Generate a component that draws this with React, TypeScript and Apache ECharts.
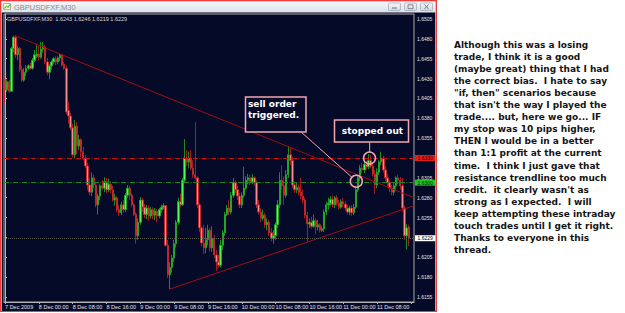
import React, { useEffect, useRef } from "react";
import * as echarts from "echarts";

// ---------- data ----------
const symbolName = "GBPUSDFXF,M30";
const lastQuote = ["1.6243", "1.6246", "1.6219", "1.6229"];

const xTickLabels = [
  "7 Dec 2009", "8 Dec 00:00", "8 Dec 08:00", "8 Dec 16:00", "9 Dec 00:00", "9 Dec 08:00",
  "9 Dec 16:00", "10 Dec 00:00", "10 Dec 08:00", "10 Dec 16:00", "11 Dec 00:00", "11 Dec 08:00",
];
const barsPerTick = 16;
const emptySlots = 2;

const yTickValues = [
  1.6155, 1.618, 1.6205, 1.623, 1.6255, 1.628, 1.6305, 1.633, 1.6355, 1.638, 1.6405, 1.643,
  1.6455, 1.648, 1.6505,
];
// tick labels hidden under the level boxes in the reference
const yHiddenLabels = [1.623, 1.633];
const yMin = 1.61487;
const yMax = 1.65113;

// [open, close, low, high]
const candles: number[][] = [
  [1.6429, 1.6416, 1.6398, 1.6432], [1.6416, 1.6426, 1.6413, 1.6429], [1.6426, 1.6414, 1.6412, 1.6428],
  [1.6414, 1.6468, 1.6413, 1.647], [1.6468, 1.6482, 1.6463, 1.6484], [1.6482, 1.646, 1.6456, 1.6485],
  [1.646, 1.6468, 1.6453, 1.6471], [1.6468, 1.6441, 1.6438, 1.647], [1.6441, 1.6428, 1.6426, 1.6446],
  [1.6428, 1.6438, 1.6426, 1.6443], [1.6438, 1.6443, 1.6433, 1.6447], [1.6443, 1.6446, 1.6441, 1.6448],
  [1.6446, 1.6443, 1.6441, 1.645], [1.6443, 1.6453, 1.6441, 1.6456], [1.6453, 1.646, 1.6451, 1.6466],
  [1.6458, 1.6461, 1.6456, 1.6474], [1.6461, 1.6457, 1.6453, 1.6471], [1.6457, 1.6467, 1.6455, 1.6476],
  [1.6467, 1.647, 1.6463, 1.6476], [1.647, 1.6451, 1.6448, 1.6472], [1.6451, 1.6438, 1.6434, 1.6456],
  [1.6438, 1.6446, 1.6429, 1.6448], [1.6446, 1.6451, 1.6441, 1.6453], [1.6451, 1.6455, 1.6448, 1.6457],
  [1.6455, 1.6451, 1.6447, 1.6458], [1.6451, 1.6456, 1.6448, 1.6458], [1.6456, 1.646, 1.6452, 1.6461],
  [1.646, 1.6447, 1.6445, 1.6461], [1.6448, 1.6443, 1.6441, 1.6451], [1.6443, 1.6388, 1.6385, 1.6446],
  [1.639, 1.6383, 1.6373, 1.6401], [1.6383, 1.6368, 1.6365, 1.6387], [1.6368, 1.6334, 1.6331, 1.6373],
  [1.6334, 1.637, 1.633, 1.6378], [1.637, 1.6345, 1.6335, 1.6375], [1.6345, 1.6353, 1.634, 1.6359],
  [1.6353, 1.6338, 1.6331, 1.6355], [1.6338, 1.633, 1.6327, 1.6344], [1.633, 1.632, 1.6317, 1.6334],
  [1.632, 1.6296, 1.629, 1.6324], [1.6296, 1.6287, 1.6283, 1.6305], [1.6287, 1.6305, 1.6282, 1.6312],
  [1.6305, 1.6296, 1.6292, 1.6309], [1.6296, 1.6271, 1.6268, 1.63], [1.6271, 1.6282, 1.6259, 1.6285],
  [1.6282, 1.6295, 1.6277, 1.6297], [1.6295, 1.6292, 1.629, 1.6302], [1.6292, 1.63, 1.6287, 1.6306],
  [1.63, 1.629, 1.6286, 1.6305], [1.629, 1.6297, 1.6287, 1.6304], [1.6297, 1.629, 1.6286, 1.6301],
  [1.629, 1.6277, 1.6275, 1.6295], [1.6277, 1.628, 1.627, 1.6285], [1.628, 1.6265, 1.6262, 1.6282],
  [1.6265, 1.6261, 1.6257, 1.6271], [1.6261, 1.6271, 1.6258, 1.6275], [1.6271, 1.6265, 1.6261, 1.6277],
  [1.6265, 1.6283, 1.6262, 1.6286], [1.6283, 1.6292, 1.628, 1.6296], [1.6292, 1.6283, 1.6277, 1.6295],
  [1.6283, 1.6271, 1.6268, 1.6286], [1.6271, 1.6259, 1.6257, 1.6273], [1.6259, 1.6232, 1.6222, 1.6262],
  [1.6232, 1.6249, 1.6227, 1.6254], [1.6249, 1.6277, 1.6246, 1.6281], [1.6277, 1.6268, 1.6262, 1.628],
  [1.6268, 1.6259, 1.6254, 1.6272], [1.6259, 1.6267, 1.6253, 1.6271], [1.6267, 1.6257, 1.6251, 1.627],
  [1.6257, 1.6265, 1.6254, 1.6268], [1.6265, 1.6258, 1.6253, 1.6268], [1.6258, 1.6263, 1.6252, 1.6267],
  [1.6263, 1.6257, 1.6249, 1.6266], [1.6257, 1.6265, 1.6254, 1.6267], [1.6265, 1.6268, 1.6261, 1.6271],
  [1.6268, 1.627, 1.6265, 1.6273], [1.627, 1.622, 1.6218, 1.6271], [1.622, 1.6183, 1.6179, 1.6227],
  [1.6183, 1.6192, 1.6165, 1.6199], [1.6192, 1.6204, 1.6186, 1.6208], [1.6204, 1.6222, 1.6199, 1.6227],
  [1.6222, 1.6249, 1.6217, 1.6252], [1.6249, 1.6275, 1.6246, 1.628], [1.6275, 1.6271, 1.6268, 1.6285],
  [1.6271, 1.6302, 1.627, 1.6305], [1.6302, 1.633, 1.6299, 1.6354], [1.633, 1.6325, 1.632, 1.634],
  [1.6325, 1.633, 1.6317, 1.6338], [1.633, 1.6317, 1.6315, 1.634], [1.6317, 1.6309, 1.6305, 1.6327],
  [1.6309, 1.6305, 1.6302, 1.6375], [1.6305, 1.6271, 1.6267, 1.6307], [1.6271, 1.6242, 1.6237, 1.6273],
  [1.6242, 1.6223, 1.6219, 1.6244], [1.6223, 1.6217, 1.6209, 1.6246], [1.6217, 1.6227, 1.621, 1.6242],
  [1.6227, 1.6239, 1.622, 1.6246], [1.6239, 1.6217, 1.6212, 1.6242], [1.6217, 1.6229, 1.6212, 1.6244],
  [1.6229, 1.6208, 1.6204, 1.6233], [1.6208, 1.6199, 1.6188, 1.6214], [1.6199, 1.6195, 1.6192, 1.6208],
  [1.6195, 1.622, 1.6192, 1.6227], [1.622, 1.6236, 1.6214, 1.6239], [1.6236, 1.6259, 1.6232, 1.6262],
  [1.6259, 1.6267, 1.6257, 1.6271], [1.6267, 1.6262, 1.6258, 1.6277], [1.6262, 1.6283, 1.6259, 1.6287],
  [1.6283, 1.6299, 1.628, 1.6305], [1.6299, 1.629, 1.6286, 1.6302], [1.629, 1.6282, 1.6277, 1.6295],
  [1.6282, 1.6271, 1.6267, 1.6286], [1.6271, 1.6283, 1.6267, 1.6287], [1.6283, 1.6292, 1.628, 1.6319],
  [1.6292, 1.6302, 1.629, 1.6307], [1.6302, 1.6305, 1.6297, 1.631], [1.6305, 1.63, 1.6296, 1.6309],
  [1.63, 1.6305, 1.6297, 1.631], [1.6305, 1.6299, 1.6295, 1.6307], [1.6299, 1.6271, 1.6267, 1.6302],
  [1.6271, 1.6262, 1.6259, 1.6277], [1.6262, 1.6254, 1.6249, 1.6267], [1.6254, 1.6258, 1.6251, 1.6265],
  [1.6258, 1.6246, 1.6242, 1.6261], [1.6246, 1.6249, 1.6239, 1.6254], [1.6249, 1.6236, 1.6232, 1.6252],
  [1.6236, 1.6229, 1.6225, 1.6242], [1.6229, 1.6232, 1.6222, 1.6239], [1.6232, 1.6246, 1.6227, 1.6249],
  [1.6246, 1.6271, 1.6242, 1.6277], [1.6271, 1.6302, 1.6267, 1.6312], [1.6302, 1.6295, 1.629, 1.6321],
  [1.6295, 1.6283, 1.6271, 1.6307], [1.6283, 1.6309, 1.628, 1.6315], [1.6309, 1.6334, 1.6305, 1.6345],
  [1.6334, 1.6327, 1.6321, 1.6343], [1.6327, 1.6296, 1.6292, 1.6331], [1.6296, 1.629, 1.6286, 1.63],
  [1.629, 1.6293, 1.6286, 1.6299], [1.6293, 1.6287, 1.6283, 1.6297], [1.6287, 1.6282, 1.6278, 1.6305],
  [1.6282, 1.6277, 1.6273, 1.629], [1.6277, 1.6258, 1.6254, 1.628], [1.6258, 1.6247, 1.6225, 1.6262],
  [1.6247, 1.6249, 1.6242, 1.6254], [1.6249, 1.6244, 1.6241, 1.6256], [1.6244, 1.6251, 1.6242, 1.6259],
  [1.6251, 1.6243, 1.6234, 1.6254], [1.6243, 1.6246, 1.6239, 1.6252], [1.6246, 1.6239, 1.6236, 1.6248],
  [1.6239, 1.6241, 1.6237, 1.6244], [1.6241, 1.6262, 1.6237, 1.6265], [1.6262, 1.6271, 1.6258, 1.6275],
  [1.6271, 1.6273, 1.6265, 1.628], [1.6273, 1.6278, 1.627, 1.6282], [1.6278, 1.6271, 1.6268, 1.6283],
  [1.6271, 1.628, 1.6267, 1.6282], [1.628, 1.6273, 1.627, 1.6283], [1.6273, 1.6268, 1.6265, 1.6277],
  [1.6268, 1.6275, 1.6266, 1.6278], [1.6275, 1.6272, 1.6268, 1.628], [1.6272, 1.6267, 1.6263, 1.6276],
  [1.6267, 1.6262, 1.6259, 1.6271], [1.6262, 1.6267, 1.6258, 1.627], [1.6267, 1.6261, 1.6257, 1.6271],
  [1.6261, 1.6268, 1.6258, 1.6272], [1.6268, 1.629, 1.6266, 1.6295], [1.629, 1.6305, 1.6287, 1.631],
  [1.6305, 1.6317, 1.6301, 1.6321], [1.6317, 1.6315, 1.6311, 1.6324], [1.6315, 1.6322, 1.6311, 1.6327],
  [1.6322, 1.6319, 1.6315, 1.6326], [1.6319, 1.6327, 1.6316, 1.6335], [1.6327, 1.632, 1.6317, 1.6334],
  [1.632, 1.631, 1.6307, 1.6324], [1.631, 1.6296, 1.6285, 1.6315], [1.6296, 1.6312, 1.6292, 1.6317],
  [1.6312, 1.6325, 1.6309, 1.6327], [1.6325, 1.633, 1.6321, 1.6338], [1.633, 1.6315, 1.6312, 1.6333],
  [1.6315, 1.6305, 1.6301, 1.632], [1.6305, 1.6299, 1.6295, 1.631], [1.6299, 1.6292, 1.6287, 1.6302],
  [1.6292, 1.6287, 1.6283, 1.6296], [1.6287, 1.6295, 1.6283, 1.6299], [1.6295, 1.6305, 1.629, 1.6307],
  [1.6305, 1.6302, 1.6297, 1.6309], [1.6302, 1.6295, 1.629, 1.6306], [1.6295, 1.6267, 1.6263, 1.6305],
  [1.6267, 1.6232, 1.6227, 1.627], [1.6232, 1.6242, 1.6215, 1.6247], [1.6243, 1.6229, 1.6219, 1.6246],
];

// trendlines: [bar position, price]
const resistanceLine = [[4.7, 1.6484], [193.5, 1.628]];
const supportLine = [[78, 1.6165], [193.5, 1.627]];
const stopLevel = 1.633;
const entryLevel = 1.63;
const bidLevel = 1.6229;

const noteLines = [
  "Although this was a losing",
  "trade, I think it is a good",
  "(maybe great) thing that I had",
  "the correct bias.  I hate to say",
  "\"if, then\" scenarios because",
  "that isn't the way I played the",
  "trade.... but, here we go... IF",
  "my stop was 10 pips higher,",
  "THEN I would be in a better",
  "than 1:1 profit at the current",
  "time.  I think I just gave that",
  "resistance trendline too much",
  "credit.  it clearly wasn't as",
  "strong as I expected.  I will",
  "keep attempting these intraday",
  "touch trades until I get it right.",
  "Thanks to everyone in this",
  "thread.",
];
const sellNote = ["sell order", "triggered."];
const stopNote = "stopped out";

// ---------- styling ----------
const NAVY = "#060a29";
const PINK = "#f2a7b0";
const AXIS_TXT = "#e2e2e2";
const TREND = "#a30d0d";
const SMALL_FONT = "'Liberation Sans', Arial, sans-serif";
const BOLD_FONT = "'DejaVu Sans', Verdana, sans-serif";

function buildOption() {
  const categories = Array.from({ length: candles.length + emptySlots }, (_, i) => String(i));
  const xMaxPos = candles.length + emptySlots - 0.5;
  const yLabelValues = yTickValues.filter((v) => !yHiddenLabels.includes(v));

  const graphics: any[] = [
    // window frame
    { type: "rect", z: -30, silent: true, shape: { x: 0.75, y: 0.75, width: 435.5, height: 310.5 }, style: { fill: "#d3d8e1", stroke: "#ee3c3c", lineWidth: 1.5 } },
    {
      type: "rect", z: -29, silent: true, shape: { x: 1.5, y: 1.5, width: 434, height: 11 },
      style: { fill: new echarts.graphic.LinearGradient(0, 0, 0, 1, [{ offset: 0, color: "#f5f7fa" }, { offset: 1, color: "#dce1e9" }]) },
    },
    { type: "rect", z: -28, silent: true, shape: { x: 2, y: 12.5, width: 433, height: 298.5 }, style: { fill: NAVY } },
    // title icon
    { type: "rect", z: -27, shape: { x: 3.5, y: 3.5, width: 7, height: 6 }, style: { fill: "#f6f3c8", stroke: "#8a8a70", lineWidth: 0.6 } },
    { type: "polyline", z: -26, shape: { points: [[4.5, 8.5], [6.5, 6], [8, 7.5], [10, 4.5]] }, style: { stroke: "#2a9a2a", lineWidth: 0.9, fill: "none" } },
    { type: "text", z: -26, x: 14, y: 7, style: { text: symbolName, fill: "#8c8c8c", fontSize: 7.5, fontFamily: SMALL_FONT, verticalAlign: "middle" } },
    // window buttons
    ...[388.5, 404.5, 420.5].map((bx) => ({
      type: "rect", z: -26, shape: { x: bx, y: 3, width: 12, height: 7.5, r: 1 },
      style: {
        fill: new echarts.graphic.LinearGradient(0, 0, 0, 1, [{ offset: 0, color: "#f4f6f9" }, { offset: 1, color: "#d4d9e2" }]),
        stroke: "#9ea6b4", lineWidth: 0.7,
      },
    })),
    { type: "line", z: -25, shape: { x1: 392, y1: 8, x2: 397, y2: 8 }, style: { stroke: "#6b7280", lineWidth: 1 } },
    { type: "rect", z: -25, shape: { x: 408, y: 4.8, width: 5, height: 3.8 }, style: { fill: "none", stroke: "#6b7280", lineWidth: 0.8 } },
    { type: "line", z: -25, shape: { x1: 424.5, y1: 4.5, x2: 428.5, y2: 9 }, style: { stroke: "#6b7280", lineWidth: 0.9 } },
    { type: "line", z: -25, shape: { x1: 428.5, y1: 4.5, x2: 424.5, y2: 9 }, style: { stroke: "#6b7280", lineWidth: 0.9 } },
    // chart header
    {
      type: "text", z: 50, x: 7, y: 18.5,
      style: { text: `${symbolName}  ${lastQuote.join(" ")}`, fill: "#d6d6d6", fontSize: 5.5, fontFamily: SMALL_FONT, verticalAlign: "middle" },
    },
    // annotation: sell order triggered
    { type: "rect", z: 60, shape: { x: 245.5, y: 97, width: 60.5, height: 35 }, style: { fill: NAVY, stroke: PINK, lineWidth: 1.5 } },
    ...sellNote.map((t, i) => ({
      type: "text", z: 61, x: 248, y: 104 + i * 11,
      style: { text: t, fill: "#ffffff", fontSize: 9, fontWeight: "bold", fontFamily: BOLD_FONT, verticalAlign: "middle" },
    })),
    { type: "line", z: 60, shape: { x1: 301.7, y1: 132.5, x2: 351.6, y2: 177 }, style: { stroke: PINK, lineWidth: 1 } },
    { type: "circle", z: 60, shape: { cx: 356.3, cy: 181.2, r: 6 }, style: { fill: "none", stroke: PINK, lineWidth: 1.5 } },
    // annotation: stopped out
    { type: "rect", z: 60, shape: { x: 334.5, y: 120, width: 74, height: 22 }, style: { fill: NAVY, stroke: PINK, lineWidth: 1.5 } },
    {
      type: "text", z: 61, x: 372.5, y: 130.5,
      style: { text: stopNote, fill: "#ffffff", fontSize: 9, fontWeight: "bold", fontFamily: BOLD_FONT, align: "center", verticalAlign: "middle" },
    },
    { type: "line", z: 60, shape: { x1: 369.7, y1: 142.5, x2: 369.7, y2: 152 }, style: { stroke: PINK, lineWidth: 1 } },
    { type: "circle", z: 60, shape: { cx: 369.5, cy: 158, r: 6 }, style: { fill: "none", stroke: PINK, lineWidth: 1.5 } },
    // notes text
    ...noteLines.map((t, i) => ({
      type: "text", z: 10, x: 454, y: 45 + i * 12.05,
      style: { text: t, fill: "#141414", fontSize: 9, fontWeight: "bold", fontFamily: BOLD_FONT, verticalAlign: "middle" },
    })),
  ];

  const levelLabel = (bg: string, fg: string, dy: number) => ({
    show: true, position: "end", distance: 1, backgroundColor: bg, color: fg, offset: [0, dy],
    fontSize: 5, lineHeight: 5, fontFamily: SMALL_FONT, padding: [0.5, 2.5, 0.5, 2.5],
  });

  return {
    animation: false,
    backgroundColor: "#ffffff",
    grid: { left: 4, right: 211, top: 14, bottom: 11, show: true, borderColor: "#a8a8a8", borderWidth: 1, backgroundColor: "transparent" },
    xAxis: [
      {
        type: "category", data: categories, boundaryGap: true,
        axisLine: { show: true, lineStyle: { color: "#b4b4b4", width: 1 } },
        axisTick: { show: true, interval: barsPerTick - 1, alignWithLabel: true, length: 2, lineStyle: { color: "#b4b4b4" } },
        axisLabel: {
          interval: barsPerTick - 1, align: "left", margin: 2, color: AXIS_TXT, fontSize: 5.5, fontFamily: SMALL_FONT,
          formatter: (_v: string, idx: number) => xTickLabels[idx / barsPerTick] ?? "",
        },
        splitLine: { show: false },
      },
      { type: "value", min: -0.5, max: xMaxPos, show: false },
    ],
    yAxis: {
      type: "value", position: "right", min: yMin, max: yMax, scale: true,
      axisLine: { show: true, lineStyle: { color: "#b4b4b4", width: 1 } },
      axisTick: { show: true, length: 2, customValues: yTickValues, lineStyle: { color: "#b4b4b4" } },
      axisLabel: {
        customValues: yLabelValues, margin: 3, color: AXIS_TXT, fontSize: 5, lineHeight: 5, fontFamily: SMALL_FONT,
        formatter: (v: number) => v.toFixed(4),
      },
      splitLine: { show: false },
    },
    series: [
      {
        type: "candlestick", xAxisIndex: 0, yAxisIndex: 0, data: candles, barWidth: 1.9,
        itemStyle: { color: "#4cff4c", color0: "#ff8c8c", borderColor: "#1fae1f", borderColor0: "#cf1e1e", borderWidth: 0.8 },
      },
      {
        type: "line", xAxisIndex: 1, yAxisIndex: 0, data: resistanceLine, symbol: "none", silent: true,
        lineStyle: { color: TREND, width: 1 }, z: 3,
      },
      {
        type: "line", xAxisIndex: 1, yAxisIndex: 0, data: supportLine, symbol: "none", silent: true,
        lineStyle: { color: TREND, width: 1 }, z: 3,
        markLine: {
          silent: true, symbol: ["none", "none"], animation: false, precision: 4,
          data: [
            { yAxis: stopLevel, lineStyle: { color: "#c41212", width: 1, type: [5, 1.5, 1, 1.5] }, label: { ...levelLabel("#e41c1c", "#3a0000", 0), formatter: stopLevel.toFixed(4) } },
            { yAxis: entryLevel, lineStyle: { color: "#1c861c", width: 1, type: [5, 1.5, 1, 1.5] }, label: { ...levelLabel("#22c422", "#002200", 0.8), formatter: entryLevel.toFixed(4) } },
            { yAxis: bidLevel, lineStyle: { color: "#5c5a4c", width: 1, type: [1, 1] }, label: { ...levelLabel("#ffffff", "#000000", 0), formatter: bidLevel.toFixed(4) } },
          ],
        },
      },
    ],
    graphic: graphics,
  };
}

export default function App() {
  const ref = useRef<HTMLDivElement>(null);
  useEffect(() => {
    if (!ref.current) return;
    const chart = echarts.init(ref.current, undefined, { renderer: "svg", width: 625, height: 313 });
    chart.setOption(buildOption() as any);
    return () => chart.dispose();
  }, []);
  return (
    <div style={{ position: "fixed", left: 0, top: 0, width: 625, height: 313, background: "#ffffff" }}>
      <div ref={ref} style={{ width: 625, height: 313 }} />
    </div>
  );
}
